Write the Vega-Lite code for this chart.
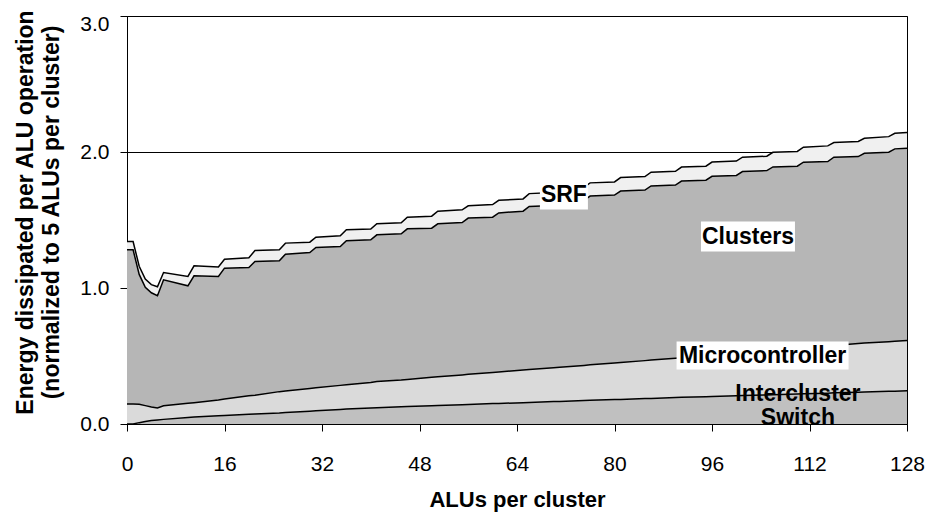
{
  "$schema": "https://vega.github.io/schema/vega-lite/v6.json",
  "width": 780,
  "height": 408,
  "autosize": {"type": "none"},
  "padding": {"left": 127, "top": 16, "right": 23, "bottom": 90},
  "background": "white",
  "config": {"view": {"stroke": "black", "strokeWidth": 1}, "font": "Liberation Sans"},
  "datasets": {
    "energy": [
      {"x": 0, "sw": 0, "mc": 0.147, "cl": 1.281, "srf": 1.342},
      {"x": 1, "sw": 0, "mc": 0.147, "cl": 1.281, "srf": 1.342},
      {"x": 2, "sw": 0.010, "mc": 0.145, "cl": 1.100, "srf": 1.160},
      {"x": 3, "sw": 0.018, "mc": 0.135, "cl": 1.005, "srf": 1.065},
      {"x": 4, "sw": 0.025, "mc": 0.125, "cl": 0.965, "srf": 1.025},
      {"x": 5, "sw": 0.030, "mc": 0.118, "cl": 0.943, "srf": 1.009},
      {"x": 6, "sw": 0.034, "mc": 0.134, "cl": 1.060, "srf": 1.114},
      {"x": 10, "sw": 0.048, "mc": 0.152, "cl": 1.016, "srf": 1.085},
      {"x": 11, "sw": 0.051, "mc": 0.157, "cl": 1.090, "srf": 1.163},
      {"x": 15, "sw": 0.060, "mc": 0.176, "cl": 1.085, "srf": 1.154},
      {"x": 16, "sw": 0.062, "mc": 0.183, "cl": 1.146, "srf": 1.212},
      {"x": 20, "sw": 0.071, "mc": 0.207, "cl": 1.151, "srf": 1.222},
      {"x": 21, "sw": 0.073, "mc": 0.212, "cl": 1.195, "srf": 1.276},
      {"x": 25, "sw": 0.081, "mc": 0.238, "cl": 1.200, "srf": 1.281},
      {"x": 26, "sw": 0.084, "mc": 0.243, "cl": 1.249, "srf": 1.330},
      {"x": 30, "sw": 0.094, "mc": 0.261, "cl": 1.261, "srf": 1.337},
      {"x": 31, "sw": 0.097, "mc": 0.266, "cl": 1.298, "srf": 1.374},
      {"x": 35, "sw": 0.107, "mc": 0.284, "cl": 1.305, "srf": 1.384},
      {"x": 36, "sw": 0.110, "mc": 0.289, "cl": 1.347, "srf": 1.428},
      {"x": 40, "sw": 0.117, "mc": 0.306, "cl": 1.354, "srf": 1.433},
      {"x": 41, "sw": 0.119, "mc": 0.312, "cl": 1.391, "srf": 1.472},
      {"x": 45, "sw": 0.126, "mc": 0.324, "cl": 1.398, "srf": 1.479},
      {"x": 46, "sw": 0.128, "mc": 0.328, "cl": 1.435, "srf": 1.521},
      {"x": 50, "sw": 0.134, "mc": 0.343, "cl": 1.440, "srf": 1.528},
      {"x": 51, "sw": 0.136, "mc": 0.347, "cl": 1.472, "srf": 1.565},
      {"x": 55, "sw": 0.142, "mc": 0.361, "cl": 1.481, "srf": 1.575},
      {"x": 56, "sw": 0.144, "mc": 0.365, "cl": 1.514, "srf": 1.604},
      {"x": 60, "sw": 0.150, "mc": 0.379, "cl": 1.521, "srf": 1.614},
      {"x": 61, "sw": 0.151, "mc": 0.383, "cl": 1.552, "srf": 1.645},
      {"x": 65, "sw": 0.157, "mc": 0.397, "cl": 1.565, "srf": 1.655},
      {"x": 66, "sw": 0.159, "mc": 0.401, "cl": 1.600, "srf": 1.694},
      {"x": 70, "sw": 0.165, "mc": 0.414, "cl": 1.607, "srf": 1.702},
      {"x": 71, "sw": 0.166, "mc": 0.418, "cl": 1.638, "srf": 1.734},
      {"x": 75, "sw": 0.172, "mc": 0.431, "cl": 1.645, "srf": 1.741},
      {"x": 76, "sw": 0.174, "mc": 0.435, "cl": 1.676, "srf": 1.773},
      {"x": 80, "sw": 0.180, "mc": 0.448, "cl": 1.683, "srf": 1.780},
      {"x": 81, "sw": 0.181, "mc": 0.452, "cl": 1.713, "srf": 1.812},
      {"x": 85, "sw": 0.187, "mc": 0.466, "cl": 1.720, "srf": 1.819},
      {"x": 86, "sw": 0.188, "mc": 0.470, "cl": 1.750, "srf": 1.851},
      {"x": 90, "sw": 0.194, "mc": 0.484, "cl": 1.757, "srf": 1.858},
      {"x": 91, "sw": 0.196, "mc": 0.488, "cl": 1.786, "srf": 1.889},
      {"x": 95, "sw": 0.201, "mc": 0.502, "cl": 1.793, "srf": 1.896},
      {"x": 96, "sw": 0.202, "mc": 0.506, "cl": 1.821, "srf": 1.926},
      {"x": 100, "sw": 0.207, "mc": 0.520, "cl": 1.828, "srf": 1.933},
      {"x": 101, "sw": 0.209, "mc": 0.524, "cl": 1.856, "srf": 1.962},
      {"x": 105, "sw": 0.214, "mc": 0.538, "cl": 1.863, "srf": 1.969},
      {"x": 106, "sw": 0.215, "mc": 0.542, "cl": 1.890, "srf": 1.998},
      {"x": 110, "sw": 0.220, "mc": 0.556, "cl": 1.896, "srf": 2.004},
      {"x": 111, "sw": 0.222, "mc": 0.560, "cl": 1.925, "srf": 2.035},
      {"x": 115, "sw": 0.227, "mc": 0.574, "cl": 1.930, "srf": 2.045},
      {"x": 116, "sw": 0.229, "mc": 0.578, "cl": 1.962, "srf": 2.069},
      {"x": 120, "sw": 0.234, "mc": 0.592, "cl": 1.966, "srf": 2.077},
      {"x": 121, "sw": 0.235, "mc": 0.595, "cl": 1.991, "srf": 2.101},
      {"x": 125, "sw": 0.240, "mc": 0.605, "cl": 1.998, "srf": 2.113},
      {"x": 126, "sw": 0.241, "mc": 0.608, "cl": 2.023, "srf": 2.138},
      {"x": 128, "sw": 0.245, "mc": 0.614, "cl": 2.028, "srf": 2.143}
    ],
    "labels": [
      {"label": "SRF", "x": 71.7, "y": 1.681},
      {"label": "Clusters", "x": 101.9, "y": 1.378},
      {"label": "Microcontroller", "x": 104.3, "y": 0.503},
      {"label": "Intercluster", "x": 110.1, "y": 0.22},
      {"label": "Switch", "x": 110.1, "y": 0.044}
    ]
  },
  "data": {"name": "energy"},
  "encoding": {
    "x": {
      "field": "x",
      "type": "quantitative",
      "scale": {"domain": [0, 128], "nice": false, "zero": false},
      "axis": {
        "values": [0, 16, 32, 48, 64, 80, 96, 112, 128],
        "grid": false,
        "tickSize": 7,
        "tickColor": "black",
        "domainColor": "black",
        "labelFontSize": 21,
        "labelColor": "black",
        "labelPadding": 22,
        "labelFlush": false,
        "labelOverlap": false,
        "title": "ALUs per cluster",
        "titleFontSize": 22,
        "titleFontWeight": "bold",
        "titleColor": "black",
        "titleBaseline": "alphabetic",
        "titleY": 82
      }
    }
  },
  "layer": [
    {
      "mark": {"type": "area", "color": "#C0C0C0"},
      "encoding": {
        "y": {
          "field": "sw",
          "type": "quantitative",
          "scale": {"domain": [0, 3], "nice": false},
          "axis": {
            "values": [0, 1, 2, 3],
            "format": ".1f",
            "grid": true,
            "gridColor": "black",
            "gridWidth": 1,
            "tickSize": 7,
            "tickColor": "black",
            "domainColor": "black",
            "labelFontSize": 21,
            "labelColor": "black",
            "labelPadding": 11,
            "labelOffset": {"condition": {"test": "datum.value === 3", "value": 8}, "value": 0},
            "title": ["Energy dissipated per ALU operation", "(normalized to 5 ALUs per cluster)"],
            "titleFontSize": 23,
            "titleFontWeight": "bold",
            "titleColor": "black",
            "titleAngle": -90,
            "titleAlign": "center",
            "titleBaseline": "top",
            "titleLineHeight": 26,
            "titleX": -113,
            "titleY": 196
          }
        },
        "y2": {"datum": 0}
      }
    },
    {
      "mark": {"type": "area", "color": "#DADADA"},
      "encoding": {"y": {"field": "mc", "type": "quantitative"}, "y2": {"field": "sw"}}
    },
    {
      "mark": {"type": "area", "color": "#B6B6B6"},
      "encoding": {"y": {"field": "cl", "type": "quantitative"}, "y2": {"field": "mc"}}
    },
    {
      "mark": {"type": "area", "color": "#F0F0F0"},
      "encoding": {"y": {"field": "srf", "type": "quantitative"}, "y2": {"field": "cl"}}
    },
    {
      "mark": {"type": "line", "color": "black", "strokeWidth": 1.5},
      "encoding": {"y": {"field": "sw", "type": "quantitative"}}
    },
    {
      "mark": {"type": "line", "color": "black", "strokeWidth": 1.5},
      "encoding": {"y": {"field": "mc", "type": "quantitative"}}
    },
    {
      "mark": {"type": "line", "color": "black", "strokeWidth": 1.5},
      "encoding": {"y": {"field": "cl", "type": "quantitative"}}
    },
    {
      "mark": {"type": "line", "color": "black", "strokeWidth": 1.5},
      "encoding": {"y": {"field": "srf", "type": "quantitative"}}
    },
    {
      "data": {"name": "labels"},
      "transform": [{"filter": "datum.label === 'SRF'"}],
      "mark": {"type": "rect", "color": "white", "width": 48, "height": 28},
      "encoding": {"y": {"field": "y", "type": "quantitative"}}
    },
    {
      "data": {"name": "labels"},
      "transform": [{"filter": "datum.label === 'Clusters'"}],
      "mark": {"type": "rect", "color": "white", "width": 94, "height": 30},
      "encoding": {"y": {"field": "y", "type": "quantitative"}}
    },
    {
      "data": {"name": "labels"},
      "transform": [{"filter": "datum.label === 'Microcontroller'"}],
      "mark": {"type": "rect", "color": "white", "width": 172, "height": 28},
      "encoding": {"y": {"field": "y", "type": "quantitative"}}
    },
    {
      "data": {"name": "labels"},
      "mark": {"type": "text", "fontSize": 23, "fontWeight": "bold", "color": "black", "align": "center", "baseline": "middle", "font": "Liberation Sans"},
      "encoding": {
        "y": {"field": "y", "type": "quantitative"},
        "text": {"field": "label"}
      }
    }
  ]
}
